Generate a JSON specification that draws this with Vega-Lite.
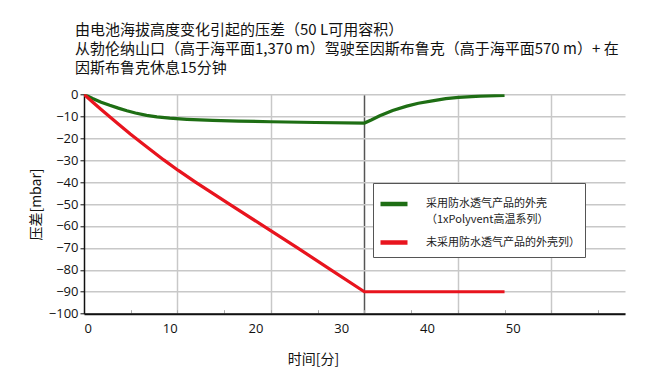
{
  "$schema": "https://vega.github.io/schema/vega-lite/v6.json",
  "width": 541,
  "height": 219.4,
  "autosize": {"type": "none"},
  "padding": {"left": 84, "top": 94.3, "right": 25, "bottom": 71.3},
  "background": "white",
  "config": {"view": {"stroke": null}, "style": {"guide-label": {"lineHeight": 16}}},
  "title": {
    "text": ["由电池海拔高度变化引起的压差（50 L可用容积）", "从勃伦纳山口（高于海平面1,370 m）驾驶至因斯布鲁克（高于海平面570 m）+ 在", "因斯布鲁克休息15分钟"],
    "anchor": "start",
    "frame": "group",
    "dx": -9,
    "offset": 12,
    "font": "Noto Sans CJK SC",
    "fontSize": 15,
    "fontWeight": "normal",
    "color": "#111111",
    "lineHeight": 19
  },
  "data": {
    "values": [
      {"series": "G", "t": 0, "p": 0},
      {"series": "G", "t": 1, "p": -1.9},
      {"series": "G", "t": 2, "p": -3.6},
      {"series": "G", "t": 3, "p": -5.0},
      {"series": "G", "t": 4, "p": -6.3},
      {"series": "G", "t": 5, "p": -7.5},
      {"series": "G", "t": 6, "p": -8.5},
      {"series": "G", "t": 7.3, "p": -9.6},
      {"series": "G", "t": 8.5, "p": -10.3},
      {"series": "G", "t": 10, "p": -10.9},
      {"series": "G", "t": 12, "p": -11.4},
      {"series": "G", "t": 15, "p": -11.9},
      {"series": "G", "t": 18, "p": -12.2},
      {"series": "G", "t": 21.8, "p": -12.5},
      {"series": "G", "t": 27, "p": -12.85},
      {"series": "G", "t": 32.7, "p": -13.1},
      {"series": "G", "t": 33.5, "p": -11.7},
      {"series": "G", "t": 34.5, "p": -9.8},
      {"series": "G", "t": 36, "p": -7.4},
      {"series": "G", "t": 37.65, "p": -5.4},
      {"series": "G", "t": 39, "p": -4.1},
      {"series": "G", "t": 40.8, "p": -2.9},
      {"series": "G", "t": 42.2, "p": -2.0},
      {"series": "G", "t": 43.7, "p": -1.4},
      {"series": "G", "t": 46.2, "p": -0.8},
      {"series": "G", "t": 49.05, "p": -0.45},
      {"series": "R", "t": 0, "p": 0},
      {"series": "R", "t": 1, "p": -3.5},
      {"series": "R", "t": 2, "p": -6.9},
      {"series": "R", "t": 3, "p": -10.2},
      {"series": "R", "t": 4, "p": -13.5},
      {"series": "R", "t": 5.4, "p": -18.1},
      {"series": "R", "t": 7, "p": -23},
      {"series": "R", "t": 9.3, "p": -29.9},
      {"series": "R", "t": 11, "p": -34.7},
      {"series": "R", "t": 13, "p": -40},
      {"series": "R", "t": 17, "p": -50.2},
      {"series": "R", "t": 21, "p": -60.2},
      {"series": "R", "t": 24.9, "p": -70},
      {"series": "R", "t": 28.8, "p": -80},
      {"series": "R", "t": 32.7, "p": -90},
      {"series": "R", "t": 49.05, "p": -90}
    ]
  },
  "mark": {"type": "line", "strokeWidth": 3.2, "clip": true},
  "encoding": {
    "x": {
      "field": "t",
      "type": "quantitative",
      "scale": {"domain": [0, 63.1], "nice": false},
      "axis": {
        "values": [0, 5.45, 10, 10.9, 16.35, 20, 21.8, 27.25, 30, 32.7, 38.15, 40, 43.6, 49.05, 50, 54.5, 59.95],
        "labelExpr": "datum.value % 10 == 0 ? datum.label : ''",
        "labelOverlap": false,
        "labelFont": "Open Sans",
        "labelFontSize": 13,
        "labelColor": "#111111",
        "labelPadding": 13,
        "domainColor": "#111111",
        "domainWidth": 2,
        "tickSize": -4,
        "tickWidth": 1,
        "tickColor": "#aaaaaa",
        "tickOpacity": {"condition": {"test": "datum.value % 10 == 0", "value": 0}, "value": 1},
        "grid": true,
        "gridWidth": 1.5,
        "gridColor": {"condition": {"test": "datum.value == 32.7", "value": "#555555"}, "value": "#c8c8c8"},
        "gridOpacity": {"condition": {"test": "indexof([10.9, 21.8, 32.7, 43.6, 54.5], datum.value) >= 0", "value": 1}, "value": 0},
        "title": "时间[分]",
        "titleFont": "Noto Sans CJK SC",
        "titleFontSize": 14,
        "titleFontWeight": "normal",
        "titleColor": "#111111",
        "titleX": 229,
        "titleY": 46,
        "titleBaseline": "middle",
        "titleAlign": "center"
      }
    },
    "y": {
      "field": "p",
      "type": "quantitative",
      "scale": {"domain": [-100, 0], "nice": false},
      "axis": {
        "values": [-100, -90, -80, -70, -60, -50, -40, -30, -20, -10, 0],
        "labelFont": "Open Sans",
        "labelFontSize": 13,
        "labelColor": "#111111",
        "labelPadding": 2,
        "domainColor": "#111111",
        "domainWidth": 1.5,
        "tickColor": "#111111",
        "tickSize": 4,
        "grid": true,
        "gridColor": "#c8c8c8",
        "gridWidth": 1.5,
        "title": "压差[mbar]",
        "titleFont": "Noto Sans CJK SC",
        "titleFontSize": 14,
        "titleFontWeight": "normal",
        "titleColor": "#111111",
        "titleX": -48,
        "titleY": 109.7,
        "titleBaseline": "middle",
        "titleAlign": "center",
        "titleAngle": -90
      }
    },
    "color": {
      "field": "series",
      "type": "nominal",
      "scale": {"domain": ["G", "R"], "range": ["#1e6e14", "#e8141e"]},
      "legend": {
        "orient": "none",
        "legendX": 289,
        "legendY": 88.7,
        "title": null,
        "labelExpr": "datum.value == 'G' ? ['采用防水透气产品的外壳', '（1xPolyvent高温系列）'] : '未采用防水透气产品的外壳列）'",
        "labelFont": "Noto Sans CJK SC",
        "labelFontSize": 11,
        "labelColor": "#222222",
        "labelAlign": "left",
        "labelLimit": 400,
        "labelOffset": 16,
        "symbolType": "stroke",
        "symbolStrokeWidth": 4.5,
        "symbolSize": 729,
        "strokeColor": "#555555",
        "fillColor": "white",
        "padding": 5,
        "rowPadding": 1.5
      }
    }
  }
}
